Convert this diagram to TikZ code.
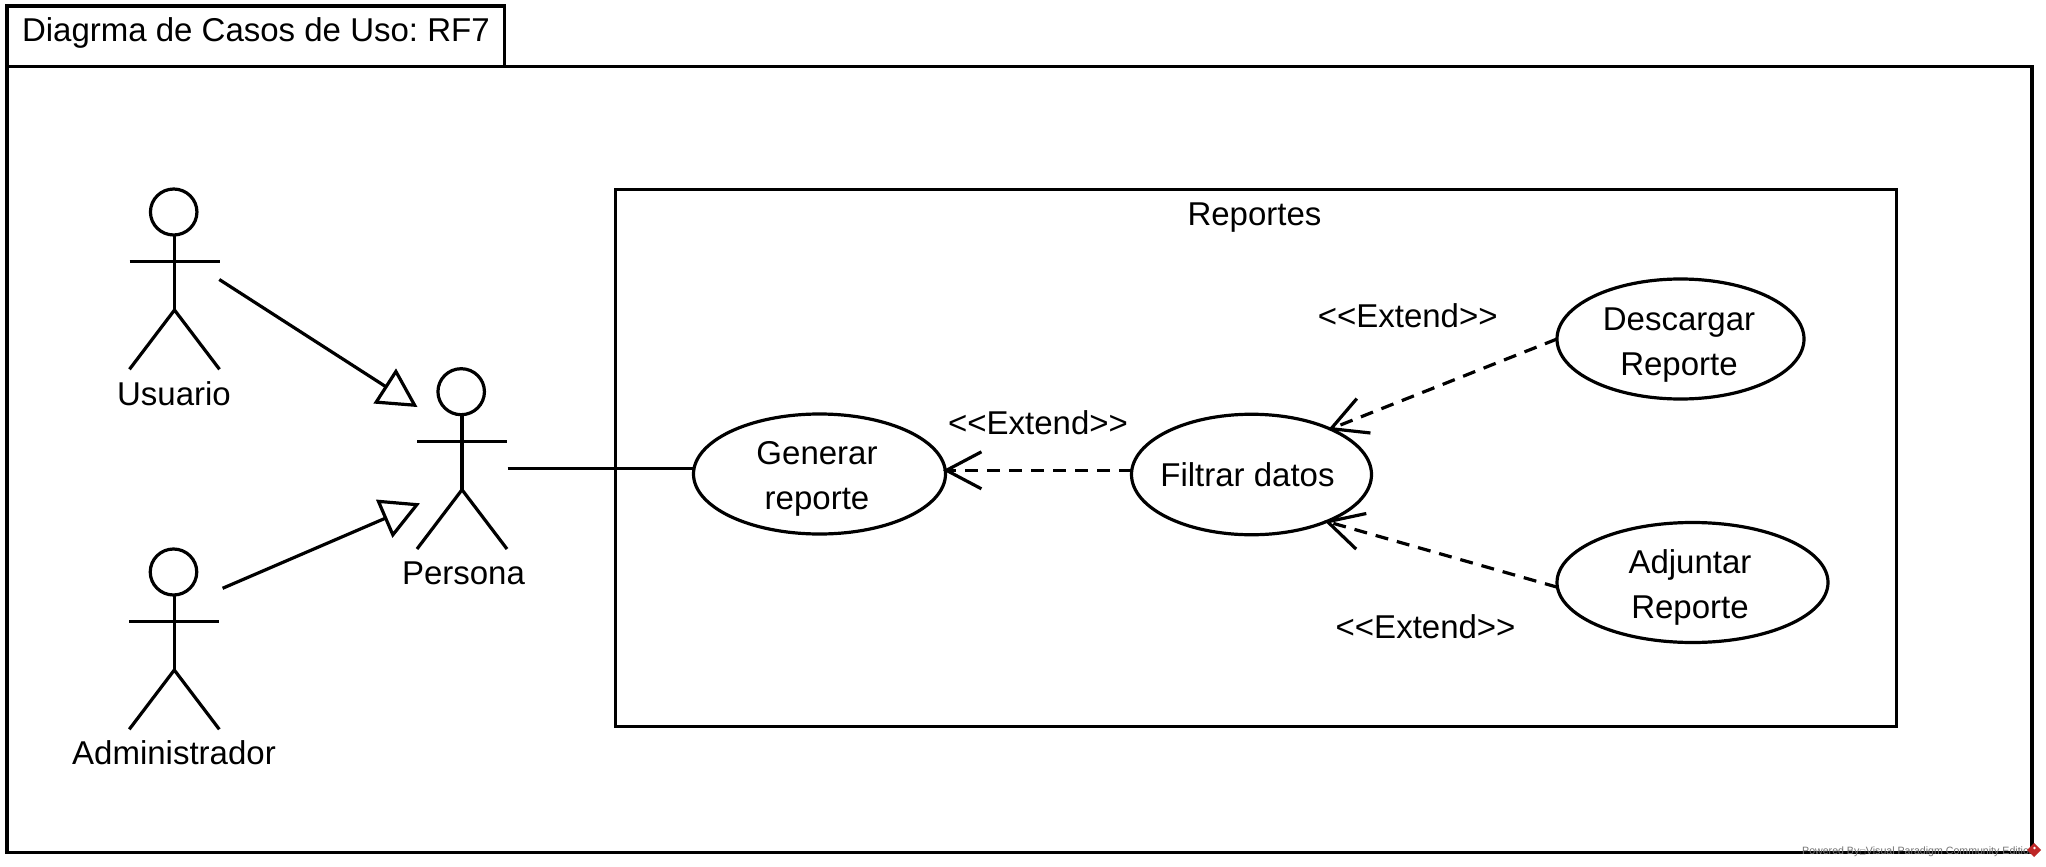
\documentclass[tikz,border=0pt]{standalone}
\usepackage{fontspec}
\setmainfont{Liberation Sans}
\newfontfamily\boxglyphfont{DejaVu Sans}
\usetikzlibrary{arrows.meta,shapes.geometric}
\frenchspacing
\tikzset{
  ln/.style={line width=3.2pt,black},
  lbl/.style={anchor=base,inner sep=0pt,outer sep=0pt,font=\fontsize{33}{45}\selectfont},
  uc/.style={ln,ellipse,inner sep=-6pt,outer sep=0pt,align=center,font=\fontsize{33}{45}\selectfont},
  actorhead/.style={ln,draw,ellipse,inner sep=0pt,outer sep=0pt,minimum width=46.5pt,minimum height=46pt},
  genline/.style={ln,shorten >=-2.5pt,-{Triangle[open,length=39pt,width=41pt]}},
  assocline/.style={ln},
  extline/.style={ln,shorten >=-2.5pt,dash pattern=on 13pt off 9pt,-{Straight Barb[length=35pt,width=37pt]}},
}
\newcommand{\drawactor}[3]{% name, body x, head centre y
  \node[actorhead] (#1) at (#2-0.8,#3) {};
  \draw[ln] (#2,#3+23) -- (#2,#3+98);
  \draw[ln] (#2-45,#3+49.7) -- (#2+45,#3+49.7);
  \draw[ln] (#2-45,#3+157.3) -- (#2,#3+98) -- (#2+45,#3+157.3);
}
\begin{document}
\begin{tikzpicture}[x=1pt,y=-1pt]
\useasboundingbox (0,0) rectangle (2046,867);
\fill[white] (0,0) rectangle (2046,867);
% frame
\draw[ln,line join=miter] (7,66.3) rectangle (2032,852.5);
\draw[ln,line join=miter] (7,66.3) -- (7,6) -- (504.4,6) -- (504.4,66.3);
\node[lbl,anchor=base west] (title) at (22,41.7) {Diagrma de Casos de Uso: RF7};
% boundary
\draw[ln,line join=miter] (615.6,189.5) rectangle (1896.5,726.5);
\node[lbl] (reportes) at (1254.5,225) {Reportes};
% actors
\drawactor{usuario}{174.5}{212}
\drawactor{persona}{462}{391.7}
\drawactor{admin}{174.3}{572}
\node[lbl] (usuariolbl) at (174,405) {Usuario};
\node[lbl] (personalbl) at (463.5,584.5) {Persona};
\node[lbl] (adminlbl) at (174,764) {Administrador};
% use cases
\node[uc,draw,minimum width=252pt,minimum height=120pt] (generar) at (819.5,474)
  {\rule{0pt}{32.5pt}\hspace*{-5pt}Generar\\\hspace*{-5pt}reporte};
\node[uc,draw,minimum width=240pt,minimum height=120.5pt] (filtrar) at (1251.5,474.5)
  {\hspace*{-8pt}Filtrar datos};
\node[uc,draw,minimum width=247pt,minimum height=120pt] (descargar) at (1680.5,339)
  {\rule{0pt}{35pt}\hspace*{-3pt}Descargar\\\hspace*{-3pt}Reporte};
\node[uc,draw,minimum width=271pt,minimum height=120pt] (adjuntar) at (1692.5,582.5)
  {\rule{0pt}{33pt}\hspace*{-5pt}Adjuntar\\\hspace*{-5pt}Reporte};
% extend labels
\node[lbl] (ext1) at (1407.7,327.7) {<{}<Extend>{}>};
\node[lbl] (ext2) at (1038,434) {<{}<Extend>{}>};
\node[lbl] (ext3) at (1425.6,638) {<{}<Extend>{}>};
% connector ends
\coordinate (usuarioOut) at (219.3,279.5);
\coordinate (personaInA) at (415.4,405.7);
\coordinate (adminOut) at (222.6,588.3);
\coordinate (personaInB) at (417.7,504.3);
\coordinate (personaOut) at (507.7,468.3);
% connectors
\draw[genline] (usuarioOut) -- (personaInA);
\draw[genline] (adminOut) -- (personaInB);
\draw[assocline] (personaOut) -- (personaOut -| generar.west);
\draw[extline] (filtrar.178.3) -- (filtrar.178.3 -| generar.east);
\draw[extline] (descargar.west) -- (filtrar.30);
\draw[extline] (adjuntar.182) -- (filtrar.-32);
% watermark
\node[anchor=base west,inner sep=0pt,text=black!55,font=\fontsize{10.6}{12}\selectfont] (wm) at (1802,854)
  {Powered By{\boxglyphfont\fontsize{7}{8}\selectfont □}Visual Paradigm Community Edition};
\fill[red!70!black!85!white] (2034,843) -- (2041,850) -- (2034,857) -- (2027,850) -- cycle;
\fill[white] (2034.5,848) circle (1.3pt);
\end{tikzpicture}
\end{document}
